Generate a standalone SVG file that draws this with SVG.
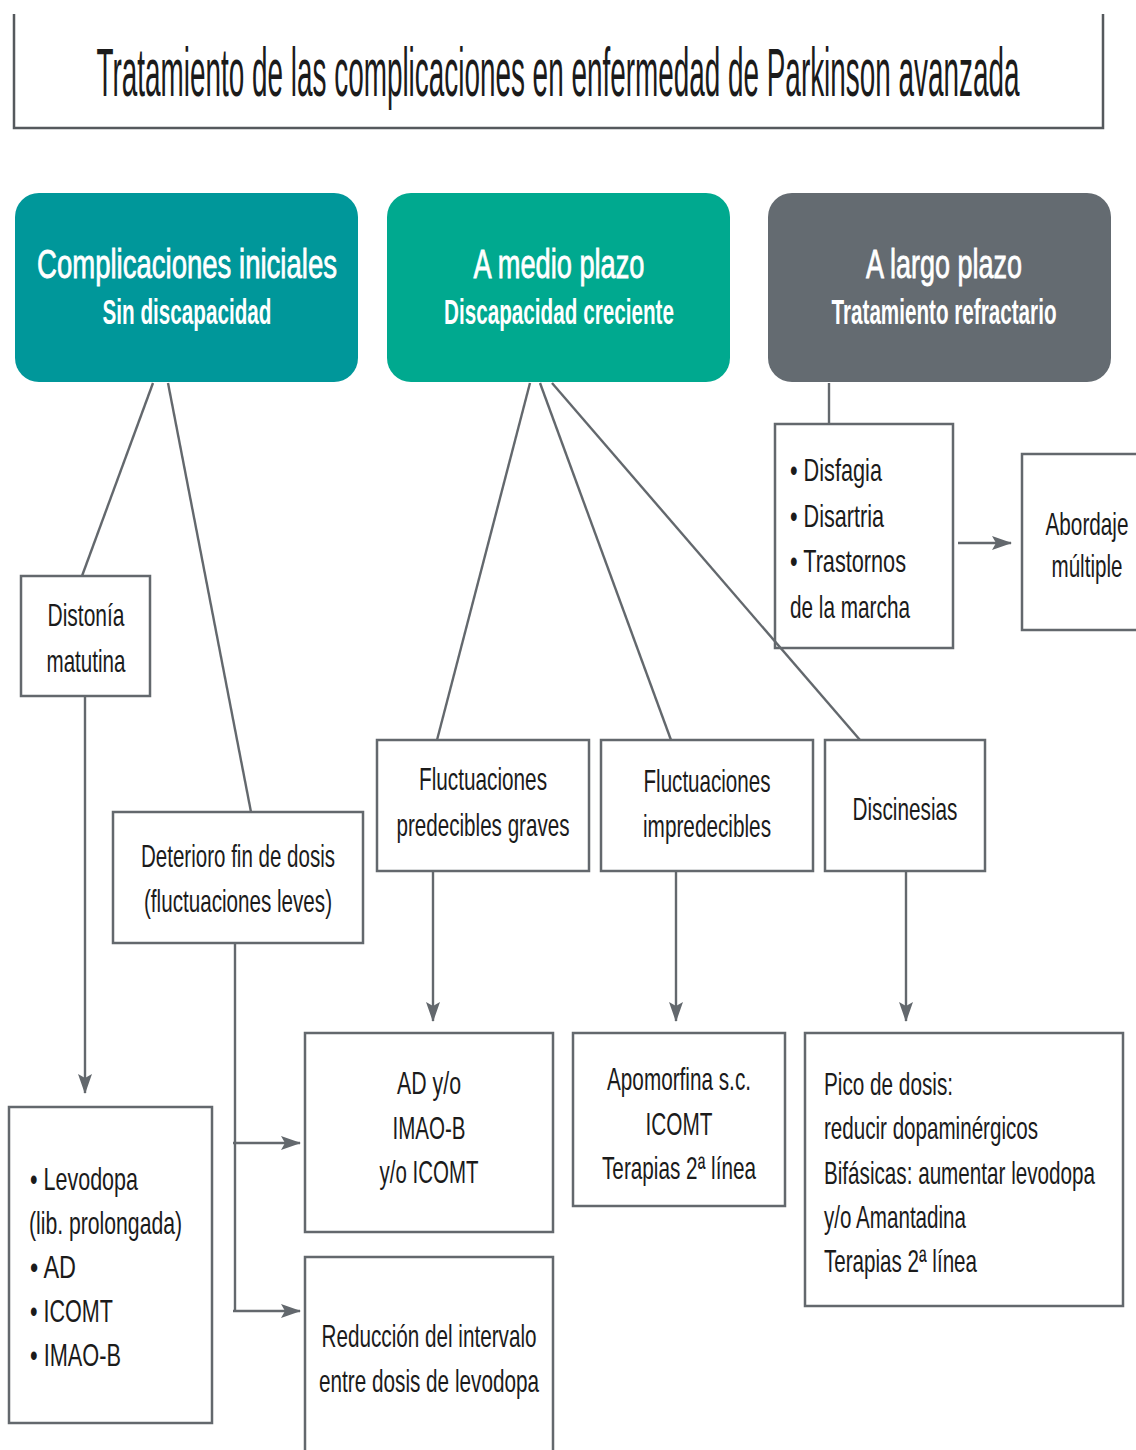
<svg xmlns="http://www.w3.org/2000/svg" width="1136" height="1450" viewBox="0 0 1136 1450">
<defs>
<style>
.box{fill:none;stroke:#63686d;stroke-width:2.5}
.hdr{stroke:none}
.t{font-family:"Liberation Sans Narrow","Liberation Sans",Arial,sans-serif;font-size:32px;fill:#1b1b1b}
.c{text-anchor:middle}
.h1{font-family:"Liberation Sans Narrow","Liberation Sans",Arial,sans-serif;font-size:40px;fill:#fff;stroke:#fff;stroke-width:0.8;text-anchor:middle}
.h2{font-family:"Liberation Sans Narrow","Liberation Sans",Arial,sans-serif;font-size:35px;font-weight:bold;fill:#fff;text-anchor:middle}
.ln{fill:none;stroke:#63686d;stroke-width:2.4}
</style>
<marker id="ah" viewBox="0 0 20 14" refX="19" refY="7" markerWidth="20" markerHeight="14" markerUnits="userSpaceOnUse" orient="auto">
<path d="M0,0 L20,7 L0,14 L4,7 z" fill="#63686d"/>
</marker>
</defs>
<rect width="1136" height="1450" fill="#fff"/>

<g id="title">
<path d="M14,14 V128 H1103 V14" fill="none" stroke="#55595d" stroke-width="2.5"/>
<text class="t c" x="558" y="96" style="font-size:68px" textLength="923" lengthAdjust="spacingAndGlyphs">Tratamiento de las complicaciones en enfermedad de Parkinson avanzada</text>
</g>

<g id="connectors">
<line class="ln" x1="153" y1="383" x2="82" y2="576"/>
<line class="ln" x1="168" y1="383" x2="251" y2="812"/>
<line class="ln" x1="85" y1="696" x2="85" y2="1093" marker-end="url(#ah)"/>
<line class="ln" x1="235" y1="943" x2="235" y2="1312"/>
<line class="ln" x1="233" y1="1143" x2="300" y2="1143" marker-end="url(#ah)"/>
<line class="ln" x1="233" y1="1311" x2="300" y2="1311" marker-end="url(#ah)"/>
<line class="ln" x1="530" y1="383" x2="437" y2="740"/>
<line class="ln" x1="540" y1="383" x2="671" y2="740"/>
<line class="ln" x1="552" y1="383" x2="860" y2="740"/>
<line class="ln" x1="433" y1="871" x2="433" y2="1021" marker-end="url(#ah)"/>
<line class="ln" x1="676" y1="871" x2="676" y2="1021" marker-end="url(#ah)"/>
<line class="ln" x1="906" y1="871" x2="906" y2="1021" marker-end="url(#ah)"/>
<line class="ln" x1="829" y1="383" x2="829" y2="424"/>
<line class="ln" x1="958" y1="543" x2="1011" y2="543" marker-end="url(#ah)"/>
</g>

<g id="h-iniciales">
<rect class="hdr" x="15" y="193" width="343" height="189" rx="24" fill="#00979a"/>
<text class="h1" x="187" y="278" textLength="300" lengthAdjust="spacingAndGlyphs">Complicaciones iniciales</text>
<text class="h2" x="187" y="324" textLength="169" lengthAdjust="spacingAndGlyphs">Sin discapacidad</text>
</g>
<g id="h-medio">
<rect class="hdr" x="387" y="193" width="343" height="189" rx="24" fill="#00a98f"/>
<text class="h1" x="559" y="278" textLength="171" lengthAdjust="spacingAndGlyphs">A medio plazo</text>
<text class="h2" x="559" y="324" textLength="230" lengthAdjust="spacingAndGlyphs">Discapacidad creciente</text>
</g>
<g id="h-largo">
<rect class="hdr" x="768" y="193" width="343" height="189" rx="24" fill="#646b71"/>
<text class="h1" x="944" y="278" textLength="156" lengthAdjust="spacingAndGlyphs">A largo plazo</text>
<text class="h2" x="944" y="324" textLength="225" lengthAdjust="spacingAndGlyphs">Tratamiento refractario</text>
</g>

<g id="distonia">
<rect class="box" x="21" y="576" width="129" height="120"/>
<text class="t c" x="86" y="626" textLength="77" lengthAdjust="spacingAndGlyphs">Distonía</text>
<text class="t c" x="86" y="672" textLength="79" lengthAdjust="spacingAndGlyphs">matutina</text>
</g>

<g id="deterioro">
<rect class="box" x="113" y="812" width="250" height="131"/>
<text class="t c" x="238" y="867" textLength="194" lengthAdjust="spacingAndGlyphs">Deterioro fin de dosis</text>
<text class="t c" x="238" y="912" textLength="188" lengthAdjust="spacingAndGlyphs">(fluctuaciones leves)</text>
</g>

<g id="levodopa">
<rect class="box" x="9" y="1107" width="203" height="316"/>
<text class="t" x="30" y="1190" textLength="108" lengthAdjust="spacingAndGlyphs">• Levodopa</text>
<text class="t" x="29" y="1234" textLength="153" lengthAdjust="spacingAndGlyphs">(lib. prolongada)</text>
<text class="t" x="30" y="1278" textLength="46" lengthAdjust="spacingAndGlyphs">• AD</text>
<text class="t" x="30" y="1322" textLength="83" lengthAdjust="spacingAndGlyphs">• ICOMT</text>
<text class="t" x="30" y="1366" textLength="91" lengthAdjust="spacingAndGlyphs">• IMAO-B</text>
</g>

<g id="ad-imao">
<rect class="box" x="305" y="1033" width="248" height="199"/>
<text class="t c" x="429" y="1094" textLength="64" lengthAdjust="spacingAndGlyphs">AD y/o</text>
<text class="t c" x="429" y="1139" textLength="73" lengthAdjust="spacingAndGlyphs">IMAO-B</text>
<text class="t c" x="429" y="1183" textLength="99" lengthAdjust="spacingAndGlyphs">y/o ICOMT</text>
</g>

<g id="reduccion">
<path class="box" d="M305,1452 V1257 H553 V1452"/>
<text class="t c" x="429" y="1347" textLength="215" lengthAdjust="spacingAndGlyphs">Reducción del intervalo</text>
<text class="t c" x="429" y="1392" textLength="220" lengthAdjust="spacingAndGlyphs">entre dosis de levodopa</text>
</g>

<g id="fluct-predecibles">
<rect class="box" x="377" y="740" width="212" height="131"/>
<text class="t c" x="483" y="790" textLength="128" lengthAdjust="spacingAndGlyphs">Fluctuaciones</text>
<text class="t c" x="483" y="836" textLength="173" lengthAdjust="spacingAndGlyphs">predecibles graves</text>
</g>

<g id="fluct-impredecibles">
<rect class="box" x="601" y="740" width="212" height="131"/>
<text class="t c" x="707" y="792" textLength="127" lengthAdjust="spacingAndGlyphs">Fluctuaciones</text>
<text class="t c" x="707" y="837" textLength="128" lengthAdjust="spacingAndGlyphs">impredecibles</text>
</g>

<g id="discinesias">
<rect class="box" x="825" y="740" width="160" height="131"/>
<text class="t c" x="905" y="820" textLength="105" lengthAdjust="spacingAndGlyphs">Discinesias</text>
</g>

<g id="apomorfina">
<rect class="box" x="573" y="1033" width="212" height="173"/>
<text class="t c" x="679" y="1090" textLength="144" lengthAdjust="spacingAndGlyphs">Apomorfina s.c.</text>
<text class="t c" x="679" y="1135" textLength="67" lengthAdjust="spacingAndGlyphs">ICOMT</text>
<text class="t c" x="679" y="1179" textLength="154" lengthAdjust="spacingAndGlyphs">Terapias 2ª línea</text>
</g>

<g id="pico">
<rect class="box" x="805" y="1033" width="318" height="273"/>
<text class="t" x="824" y="1095" textLength="129" lengthAdjust="spacingAndGlyphs">Pico de dosis:</text>
<text class="t" x="824" y="1139" textLength="214" lengthAdjust="spacingAndGlyphs">reducir dopaminérgicos</text>
<text class="t" x="824" y="1184" textLength="271" lengthAdjust="spacingAndGlyphs">Bifásicas: aumentar levodopa</text>
<text class="t" x="824" y="1228" textLength="142" lengthAdjust="spacingAndGlyphs">y/o Amantadina</text>
<text class="t" x="824" y="1272" textLength="153" lengthAdjust="spacingAndGlyphs">Terapias 2ª línea</text>
</g>

<g id="disfagia">
<rect class="box" x="775" y="424" width="178" height="224"/>
<text class="t" x="790" y="481" textLength="92" lengthAdjust="spacingAndGlyphs">• Disfagia</text>
<text class="t" x="790" y="527" textLength="94" lengthAdjust="spacingAndGlyphs">• Disartria</text>
<text class="t" x="790" y="572" textLength="116" lengthAdjust="spacingAndGlyphs">• Trastornos</text>
<text class="t" x="790" y="618" textLength="120" lengthAdjust="spacingAndGlyphs">de la marcha</text>
</g>

<g id="abordaje">
<path class="box" d="M1138,454 H1022 V630 H1138"/>
<text class="t c" x="1087" y="535" textLength="83" lengthAdjust="spacingAndGlyphs">Abordaje</text>
<text class="t c" x="1087" y="577" textLength="71" lengthAdjust="spacingAndGlyphs">múltiple</text>
</g>
</svg>
